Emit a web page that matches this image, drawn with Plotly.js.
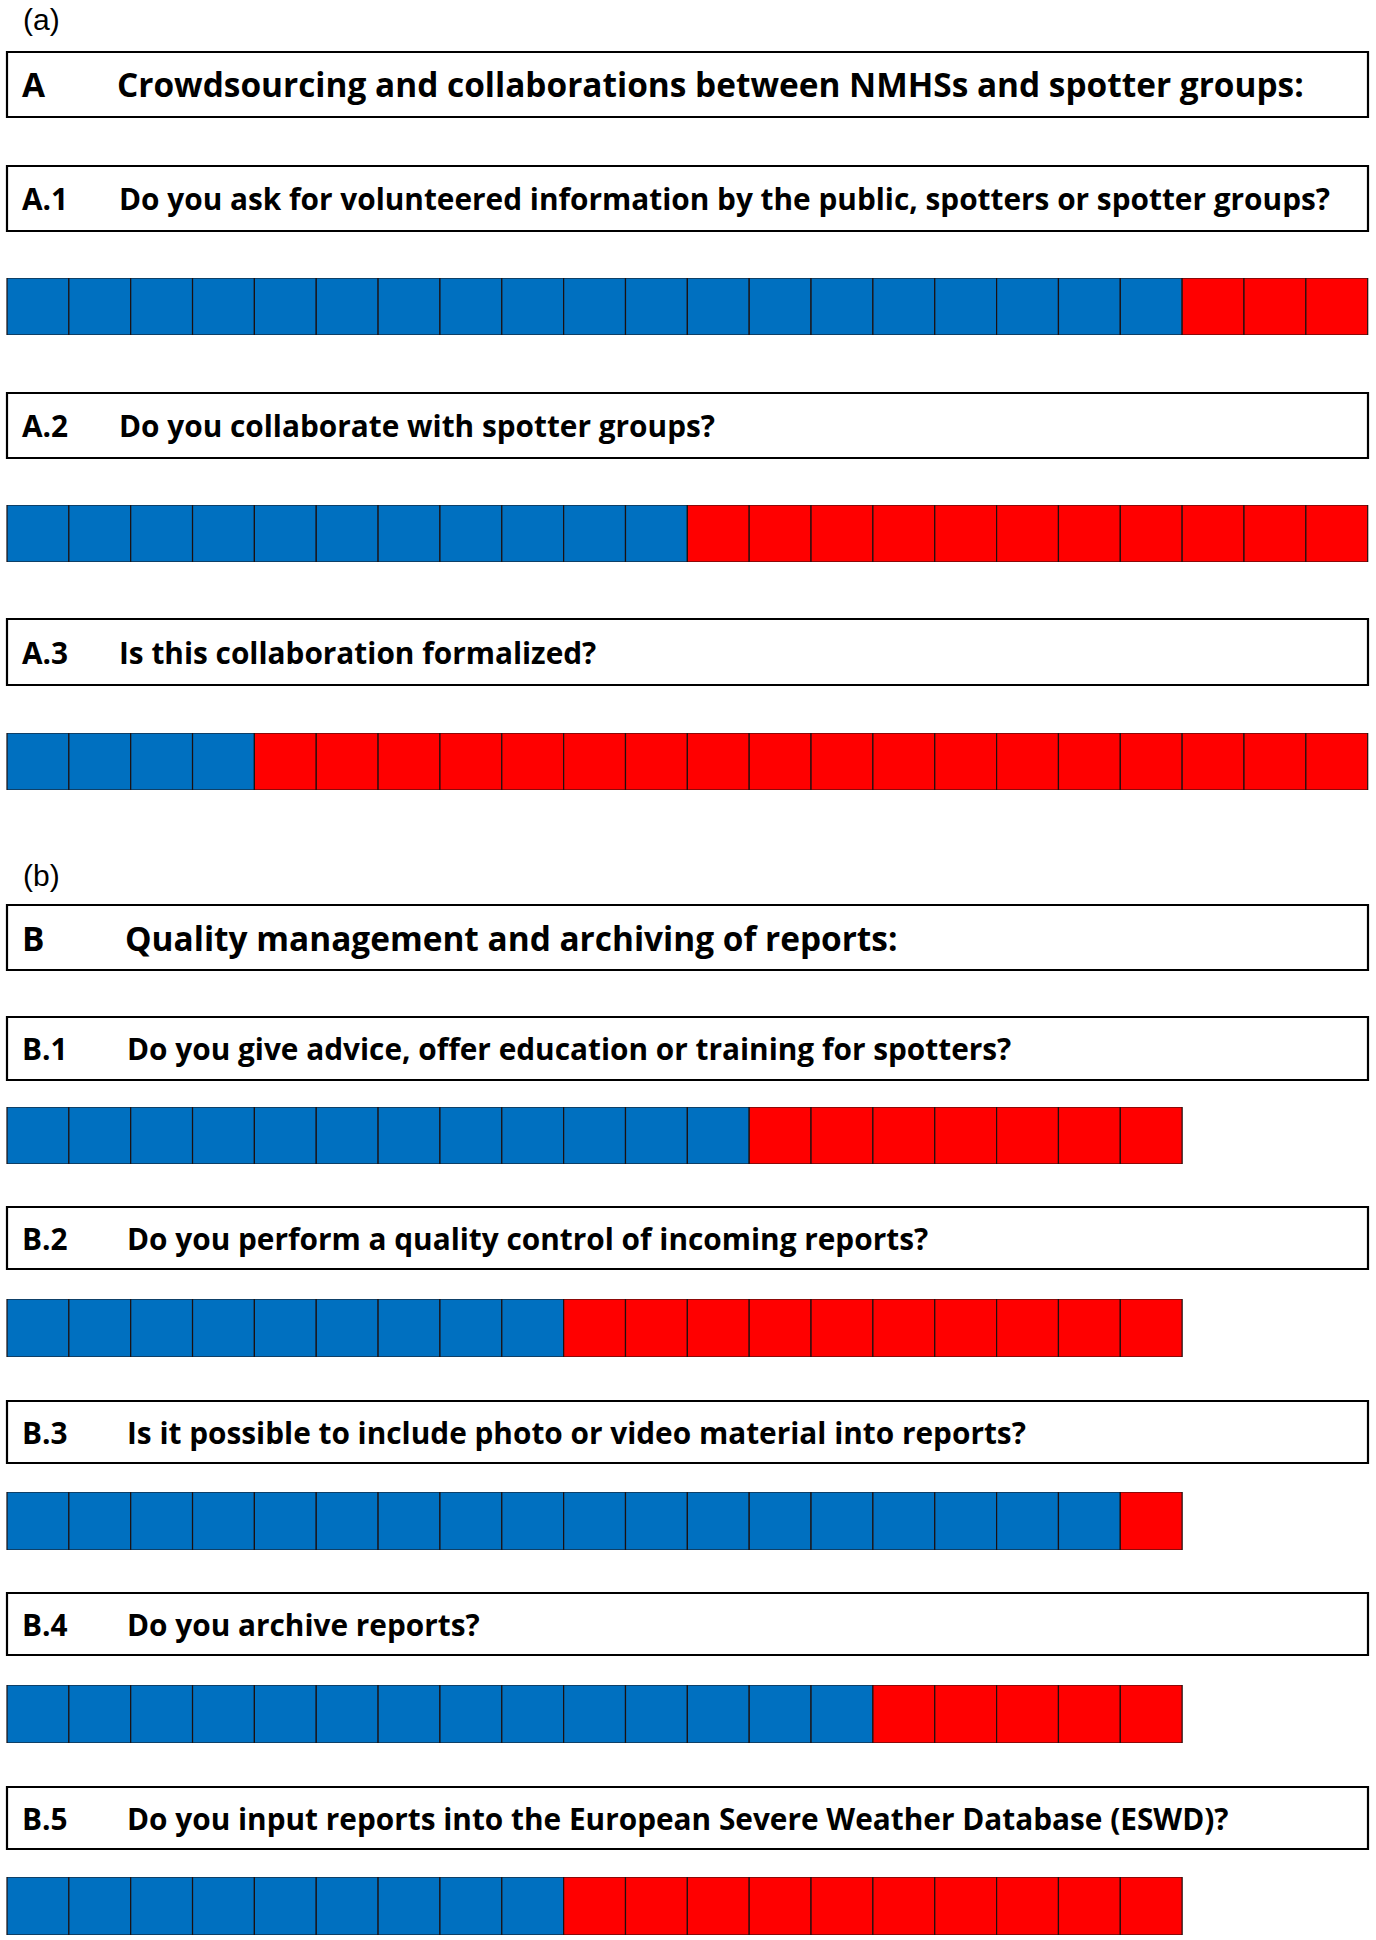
<!DOCTYPE html>
<html>
<head>
<meta charset="utf-8">
<script src="https://cdn.plot.ly/plotly-3.0.1.min.js"></script>
<style>html,body{margin:0;padding:0;background:#ffffff;}</style>
</head>
<body>
<div id="chart" style="width:1376px;height:1940px;"></div>
<script>
// ---------- data ----------
const panelLabels = ['(a)', '(b)'];
const sectionCodes = ['A', 'B'];
const sectionTitles = [
  'Crowdsourcing and collaborations between NMHSs and spotter groups:',
  'Quality management and archiving of reports:'
];
const questionCodes = ['A.1', 'A.2', 'A.3', 'B.1', 'B.2', 'B.3', 'B.4', 'B.5'];
const questionTexts = [
  'Do you ask for volunteered information by the public, spotters or spotter groups?',
  'Do you collaborate with spotter groups?',
  'Is this collaboration formalized?',
  'Do you give advice, offer education or training for spotters?',
  'Do you perform a quality control of incoming reports?',
  'Is it possible to include photo or video material into reports?',
  'Do you archive reports?',
  'Do you input reports into the European Severe Weather Database (ESWD)?'
];
const yesCounts = [19, 11, 4, 12, 9, 18, 14, 9];
const noCounts  = [3, 11, 18, 7, 10, 1, 5, 10];

// ---------- styles / layout (pixels) ----------
const yesColor = '#0070C0';
const noColor = '#FF0000';
const W = 1376, H = 1940;
const boxLeft = 7, boxRight = 1368;
const cellW = 61.85;
const panelLabelY = [20, 876];
const sectionBoxes = [[52, 117], [905, 970]];
const questionBoxes = [[166, 231], [393, 458], [619, 685], [1017, 1080], [1207, 1269], [1401, 1463], [1593, 1655], [1787, 1849]];
const barRows = [[278, 335], [505, 562], [733, 790], [1107, 1164], [1299, 1357], [1492, 1550], [1685, 1743], [1877, 1935]];
const codeX = 20;
const sectionTextX = [114.5, 122.5];
const questionTextX = {A: 117, B: 124.5};
const textFont = '"Open Sans", Lato, sans-serif';
const titleSize = 33.4, questionSize = 29.8, panelSize = 30;

const px = v => v / W;
const py = v => 1 - v / H;

// ---------- traces ----------
const data = [];
const layout = {
  width: W, height: H,
  margin: {l: 0, r: 0, t: 0, b: 0, pad: 0},
  paper_bgcolor: '#ffffff', plot_bgcolor: 'rgba(0,0,0,0)',
  showlegend: false,
  bargap: 0,
  xaxis: {
    domain: [0, 1], anchor: 'y',
    range: [-boxLeft / cellW, (W - boxLeft) / cellW],
    visible: false, showgrid: false, zeroline: false, fixedrange: true
  },
  shapes: [],
  annotations: []
};

questionCodes.forEach((code, i) => {
  const n = yesCounts[i] + noCounts[i];
  const ys = [], xs = [], bases = [], colors = [];
  for (let k = 0; k < n; k++) {
    ys.push(code);
    xs.push(1);
    bases.push(k);
    colors.push(k < yesCounts[i] ? yesColor : noColor);
  }
  const axName = i === 0 ? 'y' : 'y' + (i + 1);
  const axKey = i === 0 ? 'yaxis' : 'yaxis' + (i + 1);
  data.push({
    type: 'bar', orientation: 'h',
    x: xs, y: ys, base: bases,
    xaxis: 'x', yaxis: axName,
    width: 1,
    marker: {color: colors, line: {color: '#1c1010', width: 1.2}},
    hoverinfo: 'skip'
  });
  layout[axKey] = {
    domain: [py(barRows[i][1]), py(barRows[i][0])],
    anchor: 'x', type: 'category', range: [-0.5, 0.5],
    visible: false, showgrid: false, zeroline: false, fixedrange: true
  };
});

// boxes
function addBox(top, bottom) {
  layout.shapes.push({
    type: 'rect', xref: 'paper', yref: 'paper',
    x0: px(boxLeft), x1: px(boxRight), y0: py(bottom), y1: py(top),
    line: {color: '#000000', width: 2.2}, fillcolor: 'rgba(0,0,0,0)'
  });
}
function addText(text, x, yc, size, family, weight) {
  layout.annotations.push({
    text: text, xref: 'paper', yref: 'paper',
    x: px(x), y: py(yc), xanchor: 'left', yanchor: 'middle',
    showarrow: false,
    font: {family: family, size: size, color: '#000000', weight: weight}
  });
}

panelLabels.forEach((lab, i) => {
  addText(lab, codeX + 1, panelLabelY[i], panelSize, '"Liberation Sans", Arial, sans-serif', 400);
});
sectionCodes.forEach((c, i) => {
  const [t, b] = sectionBoxes[i];
  addBox(t, b);
  addText(c, codeX, (t + b) / 2, titleSize, textFont, 700);
  addText(sectionTitles[i], sectionTextX[i], (t + b) / 2, titleSize, textFont, 700);
});
questionCodes.forEach((c, i) => {
  const [t, b] = questionBoxes[i];
  addBox(t, b);
  addText(c, codeX, (t + b) / 2, questionSize, textFont, 700);
  addText(questionTexts[i], questionTextX[c[0]], (t + b) / 2, questionSize, textFont, 700);
});

Plotly.newPlot('chart', data, layout, {displayModeBar: false, staticPlot: true});
</script>
</body>
</html>
